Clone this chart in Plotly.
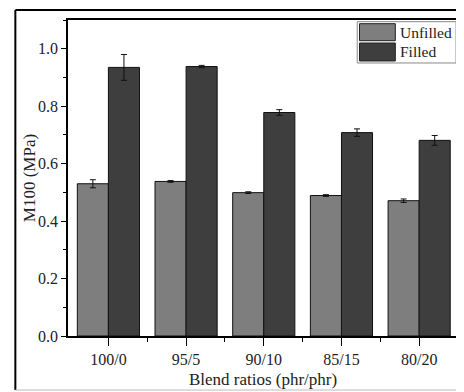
import plotly.graph_objects as go

categories = ["100/0", "95/5", "90/10", "85/15", "80/20"]
unfilled = [0.530, 0.538, 0.499, 0.489, 0.471]
unfilled_err = [0.014, 0.003, 0.003, 0.003, 0.006]
filled = [0.935, 0.938, 0.778, 0.708, 0.681]
filled_err = [0.045, 0.004, 0.010, 0.013, 0.017]
y_ticks = [0.0, 0.2, 0.4, 0.6, 0.8, 1.0]

FONT = "Liberation Serif"
C_UNF = "#7e7e7e"
C_FIL = "#3e3e3e"
xpos = list(range(len(categories)))

fig = go.Figure()
fig.add_trace(go.Bar(
    x=xpos, y=unfilled, name="Unfilled",
    marker=dict(color=C_UNF, line=dict(color="#111111", width=1)),
    error_y=dict(type="data", array=unfilled_err, color="#111111", thickness=1, width=3),
    showlegend=False,
))
fig.add_trace(go.Bar(
    x=xpos, y=filled, name="Filled",
    marker=dict(color=C_FIL, line=dict(color="#111111", width=1)),
    error_y=dict(type="data", array=filled_err, color="#111111", thickness=1, width=3),
    showlegend=False,
))

# outer figure frame
fig.add_shape(type="line", xref="paper", yref="paper", x0=-0.135, x1=-0.135, y0=-0.171, y1=1.0316,
              line=dict(color="black", width=2))
fig.add_shape(type="line", xref="paper", yref="paper", x0=-0.135, x1=1.02, y0=1.0316, y1=1.0316,
              line=dict(color="black", width=2))
fig.add_shape(type="line", xref="paper", yref="paper", x0=-0.135, x1=1.02, y0=-0.171, y1=-0.171,
              line=dict(color="#bbbbbb", width=1))

# custom legend
fig.add_shape(type="rect", xref="paper", yref="paper", x0=0.7416, x1=0.995, y0=0.864, y1=0.9946,
              line=dict(color="#888888", width=1), fillcolor="white")
fig.add_shape(type="rect", xref="paper", yref="paper", x0=0.7474, x1=0.8393, y0=0.9345, y1=0.9883,
              line=dict(color="#222222", width=1), fillcolor=C_UNF)
fig.add_shape(type="rect", xref="paper", yref="paper", x0=0.7474, x1=0.8393, y0=0.8703, y1=0.9272,
              line=dict(color="#222222", width=1), fillcolor=C_FIL)
for label, yy in [("Unfilled", 0.962), ("Filled", 0.899)]:
    fig.add_annotation(xref="paper", yref="paper", x=0.845, y=yy, text=label, showarrow=False,
                       xanchor="left", yanchor="middle", font=dict(family=FONT, size=15.5, color="#222222"))

# y-axis title as annotation for exact placement
fig.add_annotation(xref="paper", yref="paper", x=-0.0995, y=0.5, text="M100 (MPa)", showarrow=False,
                   textangle=-90, xanchor="center", yanchor="middle",
                   font=dict(family=FONT, size=17, color="#222222"))

# page body has an 8px margin: shrink figure by 8px so plot lands where the reference's does
fig.update_layout(
    width=456, height=384,
    margin=dict(l=60, r=4, t=12, b=56),
    paper_bgcolor="white", plot_bgcolor="white",
    barmode="group", bargap=0.2, bargroupgap=0,
    font=dict(family=FONT, size=16, color="#222222"),
)
fig.update_xaxes(
    range=[-0.52, 4.5], tickvals=xpos, ticktext=categories,
    showline=True, linecolor="black", linewidth=1.5, mirror=True,
    ticks="outside", ticklen=8, tickwidth=1, tickcolor="black",
    minor=dict(tickvals=[0.5, 1.5, 2.5, 3.5], ticks="outside", ticklen=4, tickcolor="black", tickwidth=1),
    showgrid=False, zeroline=False,
    title=dict(text="Blend ratios (phr/phr)", font=dict(family=FONT, size=17), standoff=6),
    tickfont=dict(family=FONT, size=16),
)
fig.update_yaxes(
    range=[0, 1.1], tickvals=y_ticks, tickformat=".1f",
    showline=True, linecolor="black", linewidth=1.5, mirror=True,
    ticks="outside", ticklen=5, tickwidth=1, tickcolor="black",
    minor=dict(dtick=0.1, tick0=0, ticks="outside", ticklen=3, tickcolor="black", tickwidth=1),
    showgrid=False, zeroline=False,
    tickfont=dict(family=FONT, size=16),
)

fig.write_html("out.html")
